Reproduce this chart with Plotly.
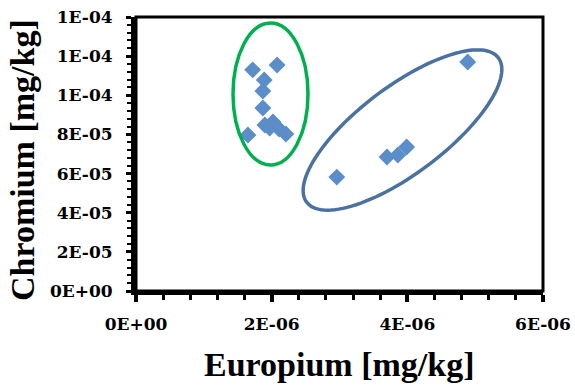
import numpy as np
import plotly.graph_objects as go

# ---- data ----
europium = [1.72e-6, 2.08e-6, 1.89e-6, 1.87e-6, 1.87e-6, 1.90e-6, 2.02e-6, 1.97e-6,
            2.11e-6, 2.21e-6, 1.65e-6, 4.89e-6, 3.70e-6, 3.86e-6, 3.99e-6, 2.96e-6]
chromium = [1.13e-4, 1.155e-4, 1.078e-4, 1.022e-4, 9.35e-5, 8.48e-5, 8.64e-5, 8.33e-5,
            8.28e-5, 8.02e-5, 7.97e-5, 1.17e-4, 6.85e-5, 6.95e-5, 7.36e-5, 5.82e-5]

x_tickvals = [0, 2e-6, 4e-6, 6e-6]
x_ticktext = ["0E+00", "2E-06", "4E-06", "6E-06"]
y_tickvals = [0, 2e-5, 4e-5, 6e-5, 8e-5, 1e-4, 1.2e-4, 1.4e-4]
y_ticktext = ["0E+00", "2E-05", "4E-05", "6E-05", "8E-05", "1E-04", "1E-04", "1E-04"]

X_RANGE = [0, 6e-6]
Y_RANGE = [0, 1.4e-4]

# ---- layout geometry (pixels) ----
W, H = 575, 387
L, R, T, B = 136, 32, 17, 96
PW, PH = W - L - R, H - T - B


def px_to_data(px, py):
    xd = X_RANGE[0] + (px - L) / PW * (X_RANGE[1] - X_RANGE[0])
    yd = Y_RANGE[0] + (T + PH - py) / PH * (Y_RANGE[1] - Y_RANGE[0])
    return xd, yd


# rotated ellipse (blue) as path in data coords
cx, cy, a, b, ang = 402.5, 130.0, 120.0, 43.5, np.deg2rad(37)
t = np.linspace(0, 2 * np.pi, 120)
ex = cx + a * np.cos(t) * np.cos(ang) - b * np.sin(t) * np.sin(ang)
ey = cy - (a * np.cos(t) * np.sin(ang) + b * np.sin(t) * np.cos(ang))
pts = [px_to_data(x, y) for x, y in zip(ex, ey)]
path = "M " + " L ".join(f"{x:.6e},{y:.6e}" for x, y in pts) + " Z"

gx0, gy0 = px_to_data(233, 165)
gx1, gy1 = px_to_data(308, 23)

TICK_FONT = dict(family="DejaVu Serif", size=17, color="black", weight="bold")
TITLE_FONT = dict(family="Liberation Serif", size=34, color="black", weight="bold")

fig = go.Figure()
fig.add_trace(go.Scatter(
    x=europium, y=chromium, mode="markers",
    marker=dict(symbol="diamond", size=13, color="#5b8ec8", line=dict(width=0)),
    cliponaxis=False, showlegend=False,
))

fig.add_shape(type="circle", xref="x", yref="y", x0=gx0, x1=gx1, y0=gy0, y1=gy1,
              line=dict(color="#00b050", width=3.5))
fig.add_shape(type="path", xref="x", yref="y", path=path,
              line=dict(color="#4a72a0", width=3.5))
# plot frame (top/right thinner)
fig.add_shape(type="rect", xref="paper", yref="paper", x0=0, x1=1, y0=0, y1=1,
              line=dict(color="black", width=3), layer="below")

fig.update_layout(
    width=W, height=H,
    margin=dict(l=L, r=R, t=T, b=B, autoexpand=False),
    paper_bgcolor="white", plot_bgcolor="white",
    xaxis=dict(range=X_RANGE, tickvals=x_tickvals, ticktext=x_ticktext, automargin=False,
               showgrid=False, zeroline=False, showline=True, linecolor="black",
               linewidth=4, ticks="outside", ticklen=7, tickwidth=4, tickcolor="black",
               minor=dict(dtick=4e-7, ticks="outside", ticklen=5, tickwidth=3,
                          tickcolor="black", showgrid=False),
               tickfont=TICK_FONT, ticklabelstandoff=8),
    yaxis=dict(range=Y_RANGE, tickvals=y_tickvals, ticktext=y_ticktext, automargin=False,
               showgrid=False, zeroline=False, showline=True, linecolor="black",
               linewidth=5, ticks="outside", ticklen=5, tickwidth=3, tickcolor="black",
               minor=dict(dtick=4e-6, ticks="outside", ticklen=4, tickwidth=2,
                          tickcolor="black", showgrid=False),
               tickfont=TICK_FONT, ticklabelstandoff=10),
    annotations=[
        dict(text="Europium [mg/kg]", xref="paper", yref="paper",
             x=(339 - L) / PW, y=(T + PH - 364) / PH, xanchor="center", yanchor="middle",
             showarrow=False, font=TITLE_FONT),
        dict(text="Chromium [mg/kg]", xref="paper", yref="paper",
             x=(22 - L) / PW, y=(T + PH - 160) / PH, xanchor="center", yanchor="middle",
             textangle=-90, showarrow=False, font=TITLE_FONT),
    ],
)

fig.write_html("out.html", config={"displayModeBar": False},
               post_script="document.body.style.margin='0px';document.body.style.overflow='hidden';")
